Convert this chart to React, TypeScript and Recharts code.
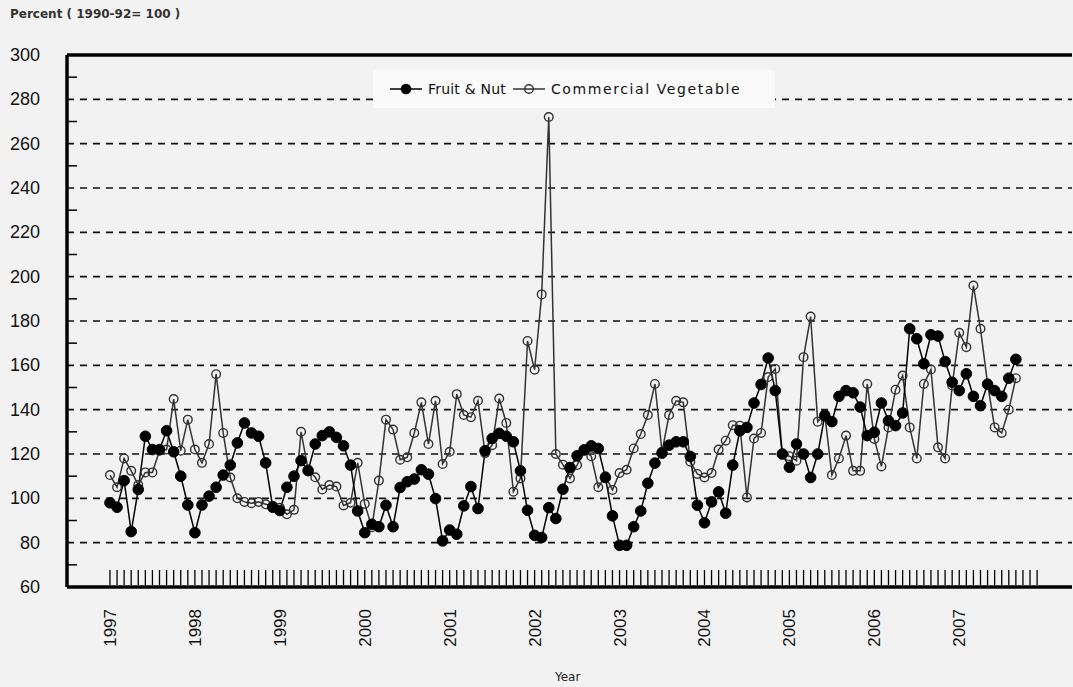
import React from 'react';
import { LineChart, Line, XAxis, YAxis, ReferenceLine } from 'recharts';

const years = ['1997', '1998', '1999', '2000', '2001', '2002', '2003', '2004', '2005', '2006', '2007'];

const fruitNut = [
  98, 96, 108, 85, 104, 128, 122, 122, 130.5, 121, 110, 97,
  84.5, 97, 101, 105, 110.5, 115, 125, 134, 129.5, 128, 116, 96,
  94.5, 105, 110, 117, 112.5, 124.5, 128.3, 130, 127.5, 123.7, 115, 94.3,
  84.5, 88.3, 87.2, 96.9, 87.2, 104.9, 107.5, 108.7, 112.9, 110.9, 99.9, 80.8,
  85.7, 83.8, 96.6, 105.3, 95.4, 121.5, 127, 129.3, 128, 125.5, 112.4, 94.6,
  83.3, 82.3, 95.8, 90.9, 104.1, 113.9, 119.2, 121.9, 123.7, 122.5, 109.4, 92.1,
  78.8, 78.8, 87.2, 94.3, 106.8, 115.9, 120.4, 124, 125.5, 125.5, 118.9, 96.9,
  89, 98.4, 102.9, 93.3, 115, 130.5, 132, 143, 151.4, 163.3, 148.6, 120,
  114, 124.5, 120, 109.4, 120, 137.3, 134.6, 146, 148.6, 147.6, 141.2, 128.3,
  129.8, 143, 135, 132.8, 138.5, 176.5, 172, 160.7, 173.8, 173.2, 161.7, 152.4,
  148.6, 156.2, 146, 141.8, 151.5, 148.6, 146, 154.2, 162.7,
];

const commercialVegetable = [
  110.5, 105, 118, 112.4, 106, 111.7, 111.7, 121.5, 122, 144.8, 121.5, 135.5,
  122, 116, 124.5, 156, 129.5, 109.4, 100, 98.4, 97.8, 98.4, 97.3, 96.6,
  95.8, 92.8, 94.8, 130, 113, 109.5, 104, 106, 105.3, 96.8, 98, 116,
  97.5, 87, 108, 135.5, 131, 117.4, 118.5, 129.5, 143.3, 124.5, 144, 115.5,
  121, 147, 137.6, 136.6, 144, 120.4, 124, 145, 134, 103, 109, 171,
  158, 192, 272, 120, 115.2, 109, 115, 121.5, 119, 105, 110, 103.8,
  111.4, 112.9, 122.5, 129, 137.6, 151.6, 121, 137.6, 144, 143.3, 116.5, 111,
  109.4, 111.4, 122, 126, 133, 132.8, 100.4, 127, 129.5, 154.7, 158.4, 120,
  119, 117, 163.7, 182, 134.6, 138, 110.5, 118, 128.3, 112.4, 112.4, 151.6,
  126.8, 114.4, 132, 149, 155.4, 132, 118, 151.6, 158.1, 123, 118, 150.9,
  174.7, 168.2, 196, 176.5, 151.6, 132, 129.5, 140, 154.2,
];

const yTickValues = [60, 70, 80, 90, 100, 110, 120, 130, 140, 150, 160, 170, 180, 190, 200, 210, 220, 230, 240, 250, 260, 270, 280, 290, 300];
const gridValues = [80, 100, 120, 140, 160, 180, 200, 220, 240, 260, 280];
const monthTickCount = 132;

const data = fruitNut.map((v, i) => ({ i, fruit: v, veg: commercialVegetable[i] }));
const monthTicks = Array.from({ length: monthTickCount }, (_, k) => k);

const FONT = '"Liberation Sans", Arial, sans-serif';

const XTick = (props: any) => {
  const { x, y, payload } = props;
  const v = payload.value as number;
  const isYear = v % 12 === 0 && years[v / 12] !== undefined;
  return (
    <g>
      <line x1={x} x2={x} y1={y - 2} y2={y - 17} stroke="#000" strokeWidth={1.3} />
      {isYear && (
        <text
          x={0}
          y={0}
          transform={`translate(${x + 6},${y + 22}) rotate(-90)`}
          textAnchor="end"
          fontSize={17}
          fontFamily={FONT}
          fill="#111"
        >
          {years[v / 12]}
        </text>
      )}
    </g>
  );
};

const YTick = (props: any) => {
  const { y, payload } = props;
  const v = payload.value as number;
  if (v % 20 === 0) {
    return (
      <text x={40} y={y + 6} textAnchor="end" fontSize={18} fontFamily={FONT} fill="#111">
        {v}
      </text>
    );
  }
  return <line x1={68} x2={77} y1={y} y2={y} stroke="#000" strokeWidth={1.5} />;
};

export default function App() {
  return (
    <div
      style={{
        position: 'absolute',
        left: 0,
        top: 0,
        width: 1073,
        height: 687,
        background: '#f2f2f2',
        overflow: 'hidden',
      }}
    >
      <div
        style={{
          position: 'absolute',
          left: 10,
          top: 7,
          fontFamily: '"DejaVu Sans", sans-serif',
          fontSize: 12,
          fontWeight: 'bold',
          color: '#333',
          whiteSpace: 'pre',
        }}
      >
        {'Percent ( 1990-92= 100 )'}
      </div>
      <LineChart
        width={1073}
        height={687}
        data={data}
        margin={{ top: 55, right: 1, bottom: 0, left: 0 }}
      >
        <XAxis
          dataKey="i"
          type="number"
          domain={[-6.07, 135.93]}
          allowDataOverflow
          ticks={monthTicks}
          interval={0}
          height={100}
          tickSize={0}
          tickMargin={0}
          tickLine={false}
          axisLine={{ stroke: '#000', strokeWidth: 3.5 }}
          tick={<XTick />}
        />
        <YAxis
          type="number"
          domain={[60, 300]}
          ticks={yTickValues}
          interval={0}
          width={67}
          tickLine={false}
          axisLine={{ stroke: '#000', strokeWidth: 3.5 }}
          tick={<YTick />}
        />
        {gridValues.map((g) => (
          <ReferenceLine key={g} y={g} stroke="#111" strokeWidth={1.6} strokeDasharray="7 6" />
        ))}
        <ReferenceLine y={300} stroke="#000" strokeWidth={3.5} />
        <Line
          type="linear"
          dataKey="veg"
          stroke="#333"
          strokeWidth={1.5}
          dot={{ r: 4.3, fill: 'none', stroke: '#333', strokeWidth: 1.4 }}
          activeDot={false}
          isAnimationActive={false}
        />
        <Line
          type="linear"
          dataKey="fruit"
          stroke="#000"
          strokeWidth={1.5}
          dot={{ r: 5.3, fill: '#000', stroke: '#000', strokeWidth: 1 }}
          activeDot={false}
          isAnimationActive={false}
        />
      </LineChart>
      <div
        style={{
          position: 'absolute',
          left: 373,
          top: 70,
          width: 402,
          height: 38,
          background: '#fafafa',
          fontFamily: '"DejaVu Sans", sans-serif',
          fontSize: 14,
          color: '#111',
          display: 'flex',
          alignItems: 'center',
        }}
      >
        <svg width={34} height={14} style={{ marginLeft: 16 }}>
          <line x1={1} x2={33} y1={7} y2={7} stroke="#000" strokeWidth={1.5} />
          <circle cx={17} cy={7} r={5.3} fill="#000" />
        </svg>
        <span style={{ marginLeft: 5, letterSpacing: 0.2 }}>Fruit &amp; Nut</span>
        <svg width={34} height={14} style={{ marginLeft: 6 }}>
          <line x1={1} x2={33} y1={7} y2={7} stroke="#333" strokeWidth={1.5} />
          <circle cx={17} cy={7} r={4.3} fill="none" stroke="#333" strokeWidth={1.4} />
        </svg>
        <span style={{ marginLeft: 5, letterSpacing: 1.6 }}>Commercial Vegetable</span>
      </div>
      <div
        style={{
          position: 'absolute',
          left: 555,
          top: 670,
          fontFamily: '"DejaVu Sans", sans-serif',
          fontSize: 12,
          color: '#222',
        }}
      >
        Year
      </div>
    </div>
  );
}
